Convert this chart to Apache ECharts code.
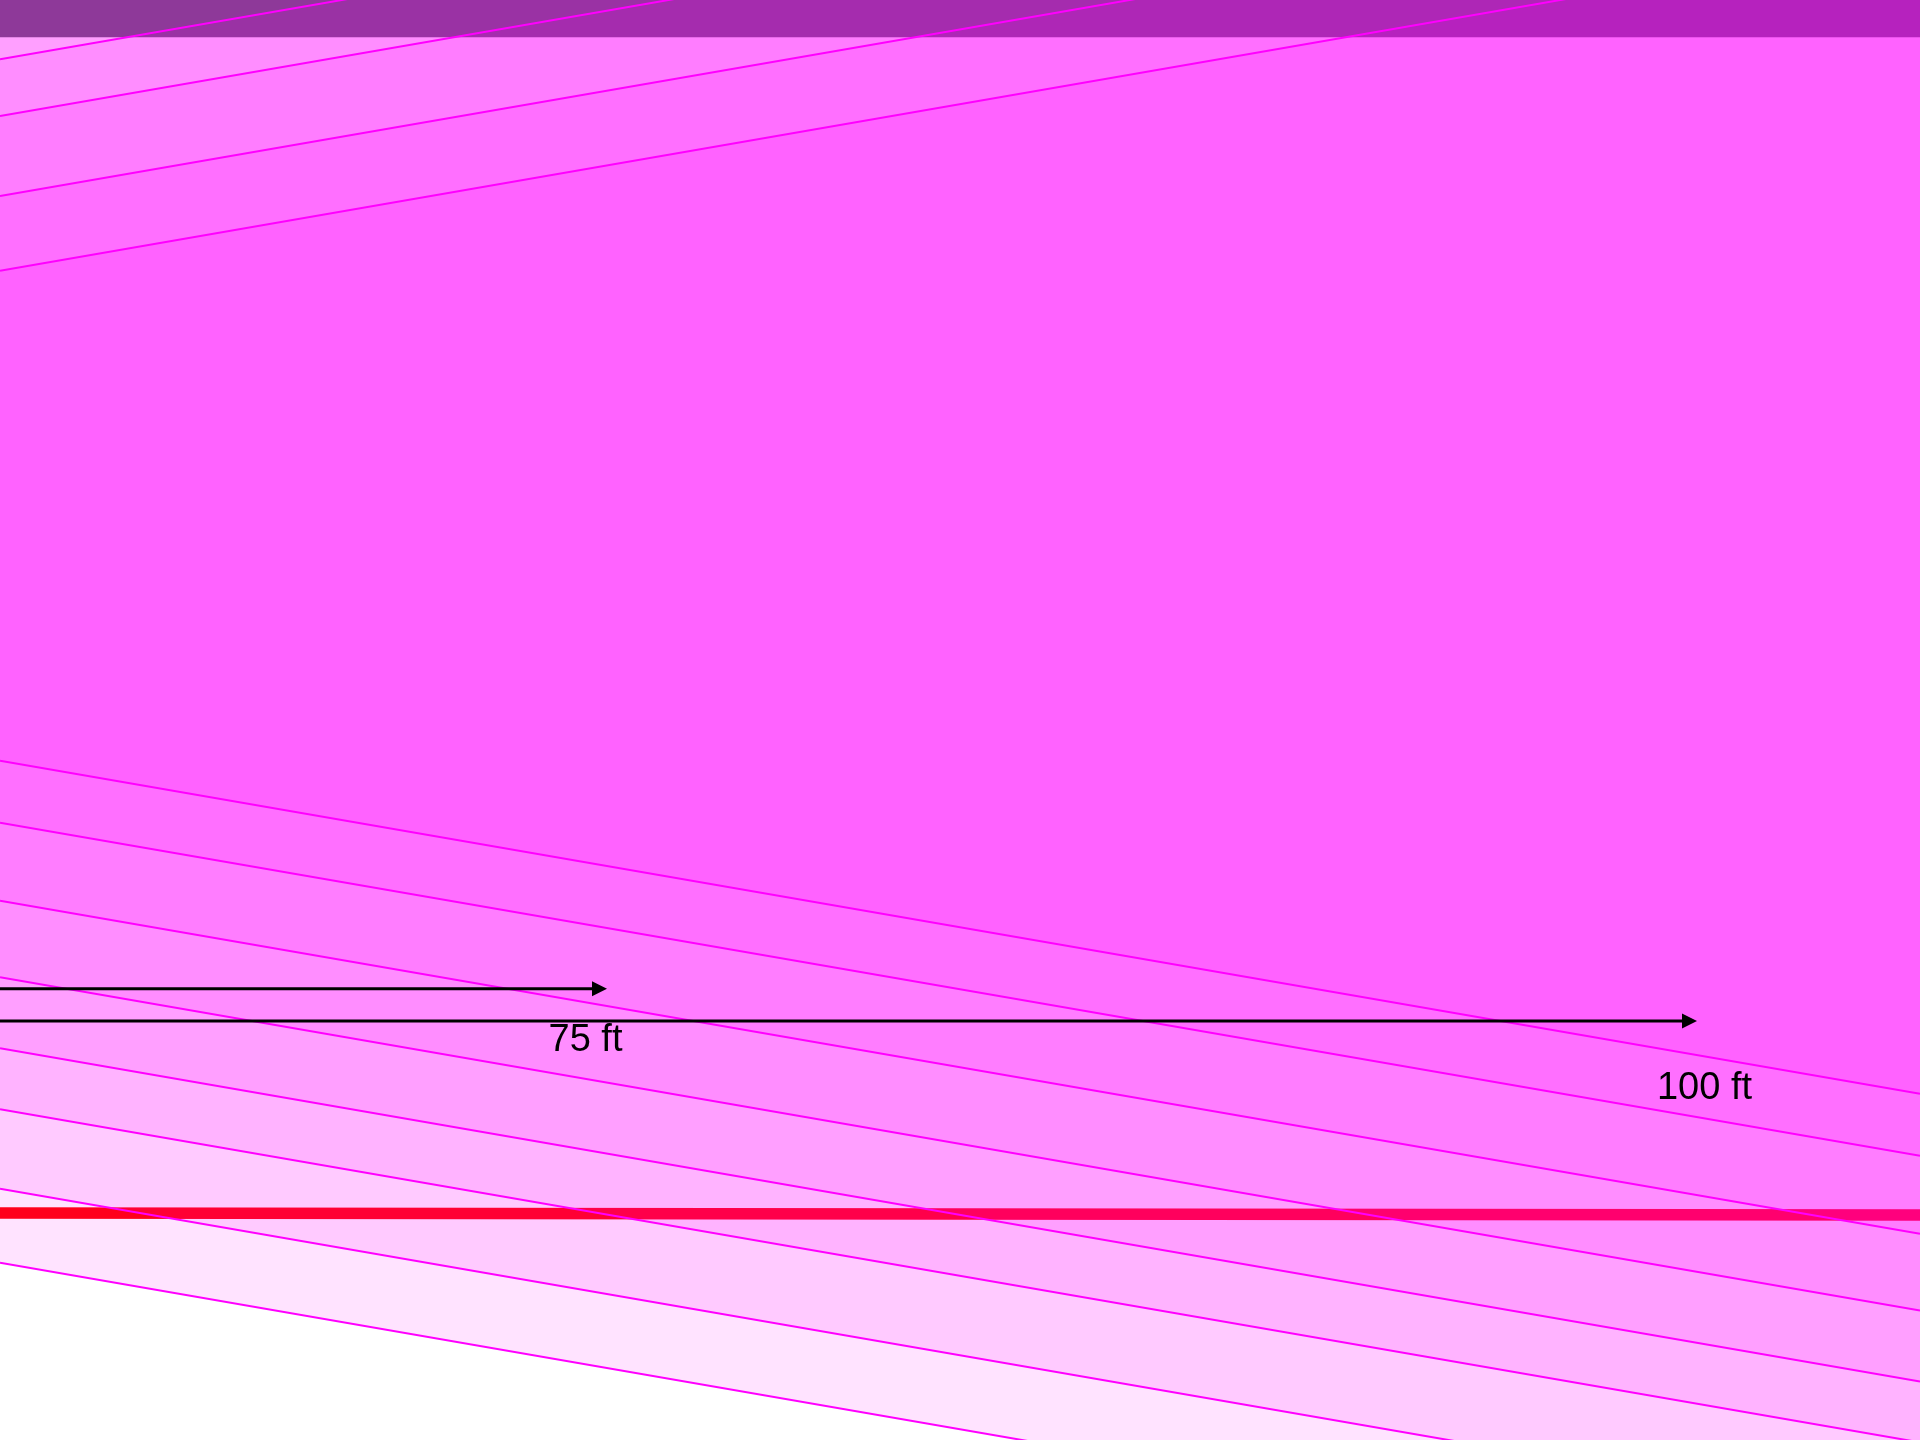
<!DOCTYPE html>
<html>
<head>
<meta charset="utf-8">
<script src="https://cdn.jsdelivr.net/npm/echarts@6/dist/echarts.min.js"></script>
<style>
html,body{margin:0;padding:0;background:#ffffff;}
#chart{width:1920px;height:1440px;}
</style>
</head>
<body>
<div id="chart"></div>
<script>
// ---- data (axis units: x 0..1920, y 0..1440 top-down) ----
const xExtent = [0, 1920];
const yExtent = [0, 1440];
// contour lines rising to the right (upper edge of the bands)
const upperLeftY  = [59.3, 116, 196, 270.7];
const upperRightY = [-273.8, -217.1, -137.1, -62.4];
// contour lines falling to the right (lower edge of the bands), inner -> outer
const lowerLeftY  = [760.7, 822.7, 900.7, 977.3, 1048.3, 1109.3, 1188.7, 1262.7];
const lowerRightY = [1093.8, 1155.8, 1233.8, 1310.4, 1381.4, 1442.4, 1521.8, 1595.8];
// top of the outer contours lies beyond the view
const outerTopY = -1200;
// dark strip at the top
const stripY = [0, 37.3];
// red line (left y, right y)
const redLineY = [1213, 1215];
// arrows
const arrowStartX = [-20, -20];
const arrowTipX = [607, 1697];
const arrowY = [988.7, 1021];
// labels
const labelTexts = ['75 ft', '100 ft'];
const labelX = [585.5, 1704.5];
const labelY = [1041, 1089];

// ---- build series data ----
const contourData = lowerLeftY.map((l, i) => {
  const u = 3 - i;
  const uL = u >= 0 ? upperLeftY[u] : outerTopY;
  const uR = u >= 0 ? upperRightY[u] : outerTopY;
  return [uL, uR, l, lowerRightY[i]];
});
const lineData = upperLeftY.map((v, i) => [v, upperRightY[i]])
  .concat(lowerLeftY.map((v, i) => [v, lowerRightY[i]]));
const arrowData = arrowTipX.map((t, i) => [arrowStartX[i], t, arrowY[i]]);
const labelData = labelTexts.map((t, i) => [labelX[i], labelY[i], t]);

const chart = echarts.init(document.getElementById('chart'), null, {renderer: 'canvas'});
chart.setOption({
  animation: false,
  backgroundColor: '#ffffff',
  grid: {left: 0, right: 0, top: 0, bottom: 0},
  xAxis: {type: 'value', min: xExtent[0], max: xExtent[1], show: false},
  yAxis: {type: 'value', min: yExtent[0], max: yExtent[1], inverse: true, show: false},
  series: [
    { // dark strip
      type: 'custom', z: 1, silent: true,
      data: [[stripY[0], stripY[1]]],
      renderItem: (p, api) => {
        const a = api.coord([xExtent[0], api.value(0)]);
        const b = api.coord([xExtent[1], api.value(1)]);
        return {type: 'rect', shape: {x: a[0], y: a[1], width: b[0] - a[0], height: b[1] - a[1]},
          style: {fill: 'rgb(78,94,95)'}};
      }
    },
    { // red line
      type: 'custom', z: 2, silent: true,
      data: [[redLineY[0], redLineY[1]]],
      renderItem: (p, api) => {
        const a = api.coord([xExtent[0], api.value(0)]);
        const b = api.coord([xExtent[1], api.value(1)]);
        return {type: 'line', shape: {x1: a[0], y1: a[1], x2: b[0], y2: b[1]},
          style: {stroke: '#ff0000', lineWidth: 11.7}};
      }
    },
    { // translucent contour bands
      type: 'custom', z: 3, silent: true,
      data: contourData,
      renderItem: (p, api) => {
        const pts = [
          api.coord([xExtent[0], api.value(0)]),
          api.coord([xExtent[1], api.value(1)]),
          api.coord([xExtent[1], api.value(3)]),
          api.coord([xExtent[0], api.value(2)])
        ];
        return {type: 'polygon', shape: {points: pts}, style: {fill: 'rgba(255,0,255,0.11)'}};
      }
    },
    { // contour lines
      type: 'custom', z: 4, silent: true,
      data: lineData,
      renderItem: (p, api) => {
        const a = api.coord([xExtent[0], api.value(0)]);
        const b = api.coord([xExtent[1], api.value(1)]);
        return {type: 'line', shape: {x1: a[0], y1: a[1], x2: b[0], y2: b[1]},
          style: {stroke: '#ff00ff', lineWidth: 2}};
      }
    },
    { // arrows
      type: 'custom', z: 5, silent: true,
      data: arrowData,
      renderItem: (p, api) => {
        const s = api.coord([api.value(0), api.value(2)]);
        const t = api.coord([api.value(1), api.value(2)]);
        const hl = 15, hw = 7.5;
        return {type: 'group', children: [
          {type: 'line', shape: {x1: s[0], y1: s[1], x2: t[0] - hl + 1, y2: t[1]},
            style: {stroke: '#000000', lineWidth: 3}},
          {type: 'polygon', shape: {points: [[t[0], t[1]], [t[0] - hl, t[1] - hw], [t[0] - hl, t[1] + hw]]},
            style: {fill: '#000000'}}
        ]};
      }
    },
    { // labels
      type: 'custom', z: 6, silent: true,
      data: labelData,
      renderItem: (p, api) => {
        const c = api.coord([api.value(0), api.value(1)]);
        return {type: 'text', x: c[0], y: c[1],
          style: {text: labelTexts[p.dataIndex], fill: '#000000',
            font: '38px "Liberation Sans", Arial, sans-serif',
            align: 'center', verticalAlign: 'middle'}};
      }
    }
  ]
});
</script>
</body>
</html>
